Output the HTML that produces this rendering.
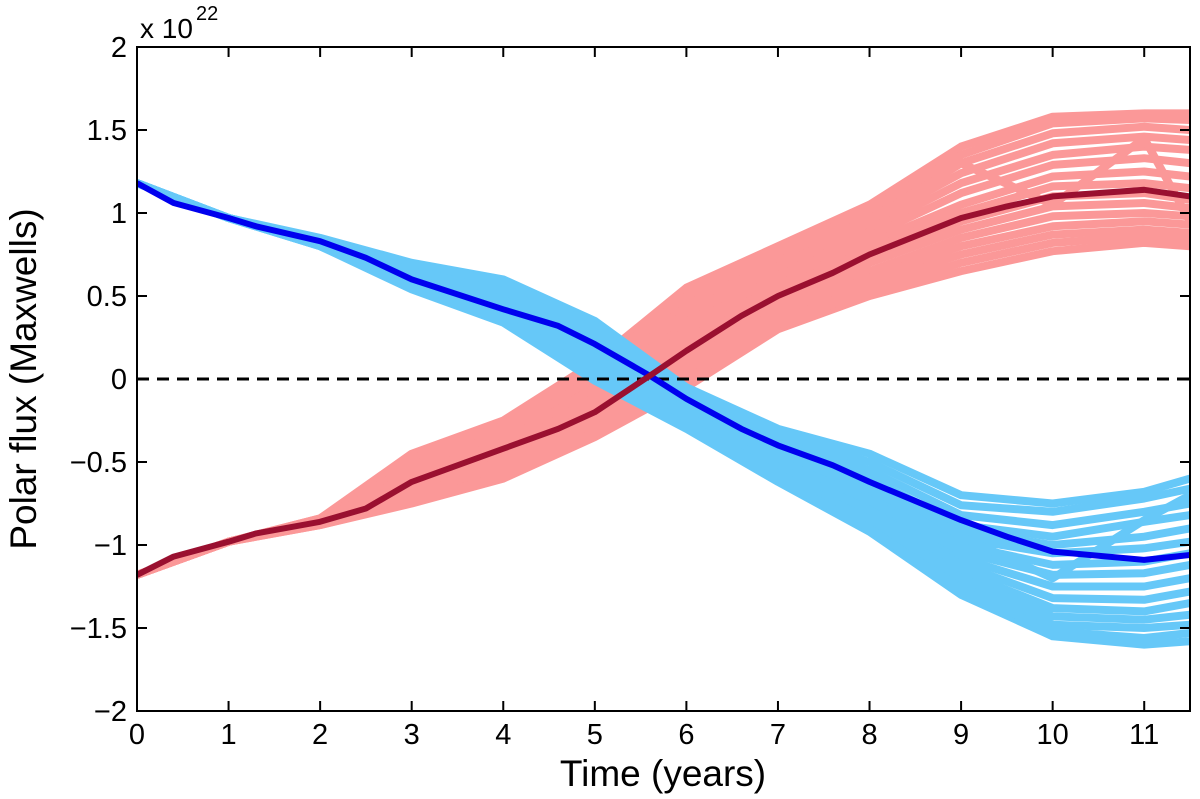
<!DOCTYPE html>
<html><head><meta charset="utf-8"><style>
html,body{margin:0;padding:0;background:#fff;}
svg{display:block;font-family:"Liberation Sans",sans-serif;}
</style></head><body>
<svg id="chart" width="1200" height="799"></svg>
<script>
const ensTimes=[0,1,2,3,4,5,6,7,8,9,10,11,11.5];
const blueMembers=[
[1.18,0.97,0.85,0.70,0.60,0.35,-0.05,-0.30,-0.45,-0.70,-0.75,-0.68,-0.60],
[1.18,0.97,0.84,0.67,0.55,0.28,-0.10,-0.36,-0.55,-0.82,-0.88,-0.80,-0.75],
[1.18,0.97,0.83,0.64,0.50,0.22,-0.14,-0.42,-0.63,-0.92,-1.00,-0.95,-0.90],
[1.18,0.97,0.83,0.62,0.46,0.16,-0.18,-0.47,-0.70,-1.00,-1.12,-1.10,-1.05],
[1.18,0.97,0.82,0.60,0.42,0.10,-0.21,-0.51,-0.76,-1.08,-1.25,-1.25,-1.20],
[1.18,0.97,0.81,0.58,0.40,0.05,-0.24,-0.55,-0.82,-1.16,-1.38,-1.40,-1.35],
[1.18,0.97,0.80,0.56,0.37,0.02,-0.27,-0.58,-0.87,-1.24,-1.48,-1.50,-1.48],
[1.18,0.97,0.80,0.54,0.34,-0.01,-0.30,-0.62,-0.92,-1.30,-1.55,-1.60,-1.58],
[1.18,0.97,0.84,0.68,0.58,0.32,-0.07,-0.33,-0.50,-0.76,-0.80,-0.72,-0.66],
[1.18,0.97,0.84,0.66,0.52,0.25,-0.12,-0.39,-0.60,-0.88,-0.95,-0.86,-0.82],
[1.18,0.97,0.83,0.63,0.48,0.19,-0.16,-0.45,-0.66,-0.96,-1.05,-1.02,-0.98],
[1.18,0.97,0.82,0.61,0.44,0.13,-0.20,-0.49,-0.73,-1.04,-1.18,-1.17,-1.12],
[1.18,0.97,0.82,0.59,0.41,0.08,-0.22,-0.53,-0.79,-1.12,-1.32,-1.33,-1.28],
[1.18,0.97,0.81,0.57,0.38,0.03,-0.26,-0.57,-0.85,-1.20,-1.43,-1.45,-1.42],
[1.18,0.97,0.80,0.55,0.36,0.00,-0.28,-0.60,-0.90,-1.27,-1.52,-1.56,-1.53],
[1.18,0.97,0.83,0.65,0.53,0.30,-0.08,-0.40,-0.58,-0.95,-1.20,-0.85,-0.70]];
const redMembers=[
[-1.18,-0.98,-0.84,-0.45,-0.25,0.10,0.55,0.80,1.05,1.40,1.58,1.60,1.60],
[-1.18,-0.98,-0.85,-0.50,-0.30,0.04,0.45,0.72,0.98,1.30,1.48,1.52,1.50],
[-1.18,-0.98,-0.85,-0.55,-0.35,-0.02,0.36,0.65,0.90,1.18,1.35,1.40,1.38],
[-1.18,-0.98,-0.86,-0.60,-0.40,-0.08,0.28,0.58,0.82,1.05,1.22,1.25,1.22],
[-1.18,-0.98,-0.86,-0.64,-0.45,-0.15,0.20,0.50,0.74,0.95,1.10,1.12,1.08],
[-1.18,-0.98,-0.87,-0.68,-0.50,-0.22,0.12,0.43,0.65,0.85,0.98,1.00,0.98],
[-1.18,-0.98,-0.87,-0.72,-0.55,-0.28,0.05,0.36,0.57,0.75,0.87,0.90,0.88],
[-1.18,-0.98,-0.88,-0.75,-0.60,-0.35,-0.05,0.30,0.50,0.65,0.77,0.82,0.80],
[-1.18,-0.98,-0.84,-0.48,-0.28,0.07,0.50,0.76,1.02,1.35,1.54,1.57,1.56],
[-1.18,-0.98,-0.85,-0.52,-0.33,0.01,0.40,0.68,0.94,1.24,1.42,1.46,1.44],
[-1.18,-0.98,-0.85,-0.57,-0.38,-0.05,0.32,0.62,0.86,1.12,1.29,1.33,1.30],
[-1.18,-0.98,-0.86,-0.62,-0.43,-0.12,0.24,0.54,0.78,1.00,1.16,1.18,1.15],
[-1.18,-0.98,-0.86,-0.66,-0.48,-0.18,0.16,0.46,0.70,0.90,1.04,1.06,1.03],
[-1.18,-0.98,-0.87,-0.70,-0.52,-0.25,0.09,0.40,0.61,0.80,0.92,0.95,0.93],
[-1.18,-0.98,-0.88,-0.74,-0.58,-0.32,0.00,0.33,0.53,0.70,0.82,0.86,0.84],
[-1.18,-0.98,-0.85,-0.58,-0.45,-0.20,0.30,0.55,0.95,1.30,1.05,1.45,0.95]];
const meanTimes=[0,0.4,1,1.3,2,2.5,3,4,4.6,5,5.6,6,6.6,7,7.6,8,9,9.5,10,11,11.5];
const blueMean=[1.18,1.06,0.97,0.92,0.83,0.73,0.60,0.42,0.32,0.21,0.02,-0.12,-0.30,-0.40,-0.52,-0.62,-0.85,-0.95,-1.04,-1.09,-1.06];
const redMean=[-1.18,-1.07,-0.98,-0.93,-0.86,-0.78,-0.62,-0.42,-0.30,-0.20,0.02,0.17,0.38,0.50,0.64,0.75,0.97,1.04,1.10,1.14,1.10];
const xTicks=[0,1,2,3,4,5,6,7,8,9,10,11];
const yTicks=[-2,-1.5,-1,-0.5,0,0.5,1,1.5,2];
const yTickLabels=["\u22122","\u22121.5","\u22121","\u22120.5","0","0.5","1","1.5","2"];

const L=137,R=1190,T=47,B=711,XMAX=11.5;
const X=v=>L+v/XMAX*(R-L);
const Y=v=>T+(2-v)/4*(B-T);
const svg=document.getElementById('chart');
const NS='http://www.w3.org/2000/svg';
function mk(tag,attrs,parent){const e=document.createElementNS(NS,tag);for(const k in attrs)e.setAttribute(k,attrs[k]);(parent||svg).appendChild(e);return e;}
function pts(ts,vs){return ts.map((t,i)=>X(t).toFixed(1)+','+Y(vs[i]).toFixed(1)).join(' ');}

const clip=mk('clipPath',{id:'pc'});mk('rect',{x:L,y:T,width:R-L,height:B-T},clip);
const g=mk('g',{'clip-path':'url(#pc)'});



redMembers.forEach((m,i)=>{const p=mk('polyline',{points:pts(ensTimes,m),fill:'none',stroke:'#fb9898','stroke-width':8,'stroke-linejoin':'round'},g);

});
blueMembers.forEach((m,i)=>{const p=mk('polyline',{points:pts(ensTimes,m),fill:'none',stroke:'#66c8f8','stroke-width':8,'stroke-linejoin':'round'},g);

});
const z=mk('line',{x1:L,x2:R,y1:Y(0),y2:Y(0),stroke:'#000','stroke-width':3,'stroke-dasharray':'12,8'},g);


const bm=mk('polyline',{points:pts(meanTimes,blueMean),fill:'none',stroke:'#0000ee','stroke-width':6,'stroke-linejoin':'round'},g);


const rm=mk('polyline',{points:pts(meanTimes,redMean),fill:'none',stroke:'#9a1030','stroke-width':6,'stroke-linejoin':'round'},g);



const frame=mk('rect',{x:L,y:T,width:R-L,height:B-T,fill:'none',stroke:'#000','stroke-width':2});



xTicks.forEach(t=>{mk('line',{x1:X(t),x2:X(t),y1:B,y2:B-10,stroke:'#000','stroke-width':2});mk('line',{x1:X(t),x2:X(t),y1:T,y2:T+10,stroke:'#000','stroke-width':2});
const tx=mk('text',{x:X(t),y:B+33,'font-size':29,'text-anchor':'middle'});tx.textContent=t;

});
yTicks.forEach((v,i)=>{mk('line',{x1:L,x2:L+10,y1:Y(v),y2:Y(v),stroke:'#000','stroke-width':2});mk('line',{x1:R,x2:R-10,y1:Y(v),y2:Y(v),stroke:'#000','stroke-width':2});
const tx=mk('text',{x:L-10,y:Y(v)+10,'font-size':29,'text-anchor':'end'});tx.textContent=yTickLabels[i];

});

const ex=mk('text',{x:140,y:38,'font-size':28});ex.textContent='x 10';


const ex2=mk('text',{x:196,y:20,'font-size':20});ex2.textContent='22';


const xt=mk('text',{x:663,y:786,'font-size':37,'text-anchor':'middle'});xt.textContent='Time (years)';


const yt=mk('text',{x:0,y:0,'font-size':37,'text-anchor':'middle',transform:'translate(36,379) rotate(-90)'});yt.textContent='Polar flux (Maxwells)';


</script>
</body></html>
